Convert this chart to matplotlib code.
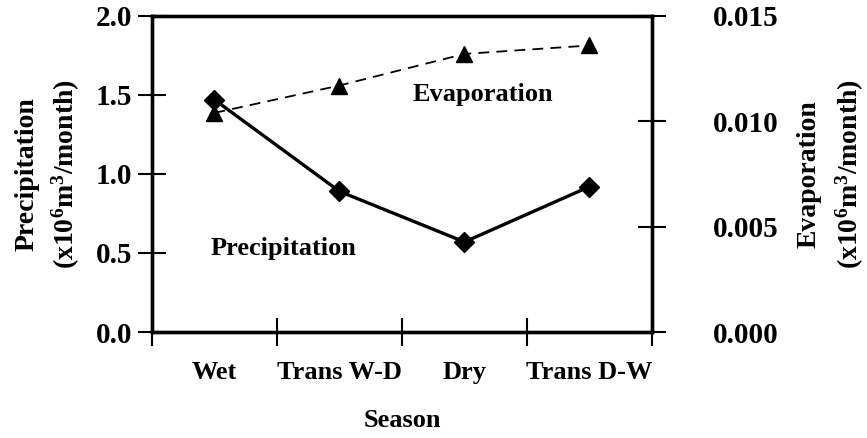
import matplotlib
matplotlib.use("Agg")
import matplotlib.pyplot as plt

plt.rcParams['font.family'] = ['Liberation Serif', 'DejaVu Serif']
plt.rcParams['font.weight'] = 'bold'
plt.rcParams['mathtext.fontset'] = 'custom'
plt.rcParams['mathtext.rm'] = 'Liberation Serif:bold'
plt.rcParams['mathtext.bf'] = 'Liberation Serif:bold'
plt.rcParams['mathtext.default'] = 'rm'

# seasonal data
seasons = ["Wet", "Trans W-D", "Dry", "Trans D-W"]
precipitation = [1.47, 0.89, 0.57, 0.92]          # x10^6 m^3/month
evaporation = [0.0104, 0.0117, 0.0132, 0.0136]    # x10^6 m^3/month

fig = plt.figure(figsize=(8.67, 4.38), dpi=100)
ax = fig.add_axes([0.1753, 0.242, 0.5767, 0.7215])
ax2 = ax.twinx()

xpos = [i + 0.5 for i in range(len(seasons))]

ax.plot(xpos, precipitation, color='black', lw=2.4, marker='D', markersize=10,
        zorder=3)
ax2.plot(xpos, evaporation, color='black', lw=1.3, ls=(0, (6, 4)), marker='^',
         markersize=11, zorder=3)

ax.set_xlim(0, len(seasons))
ax.set_ylim(0, 2.0)
ax2.set_ylim(0, 0.015)

# category boundaries as major ticks, labels centred between them
ax.set_xticks(range(len(seasons) + 1))
ax.set_xticklabels([])
ax.set_xticks(xpos, minor=True)
ax.set_xticklabels(seasons, minor=True)
ax.tick_params(axis='x', which='minor', length=0, pad=21, labelsize=19)
ax.tick_params(axis='x', which='major', direction='inout', length=20, width=1.5)

ax.set_yticks([0, 0.5, 1.0, 1.5, 2.0])
ax.set_yticklabels(["%.1f" % v for v in ax.get_yticks()])
ax.tick_params(axis='y', direction='inout', length=20, width=1.5, labelsize=21,
               pad=4)

ax2.set_yticks([0, 0.005, 0.010, 0.015])
ax2.set_yticklabels(["%.3f" % v for v in ax2.get_yticks()])
ax2.tick_params(axis='y', direction='inout', length=20, width=1.5, labelsize=21,
                pad=34)

for a in (ax, ax2):
    for s in a.spines.values():
        s.set_linewidth(2.4)

ax.set_xlabel("Season", fontsize=19, fontweight='bold', labelpad=18)
ax.set_ylabel("Precipitation\n" + r"(x10$^6$m$^3$/month)", fontsize=20,
              fontweight='bold', linespacing=1.45, labelpad=10)
ax2.set_ylabel("Evaporation\n" + r"(x10$^6$m$^3$/month)", fontsize=20,
               fontweight='bold', linespacing=1.5, labelpad=13)

ax.text(2.65, 1.5, "Evaporation", fontsize=19, fontweight='bold',
        ha='center', va='center')
ax.text(1.05, 0.53, "Precipitation", fontsize=19, fontweight='bold',
        ha='center', va='center')

fig.savefig("out.png", dpi=100)
